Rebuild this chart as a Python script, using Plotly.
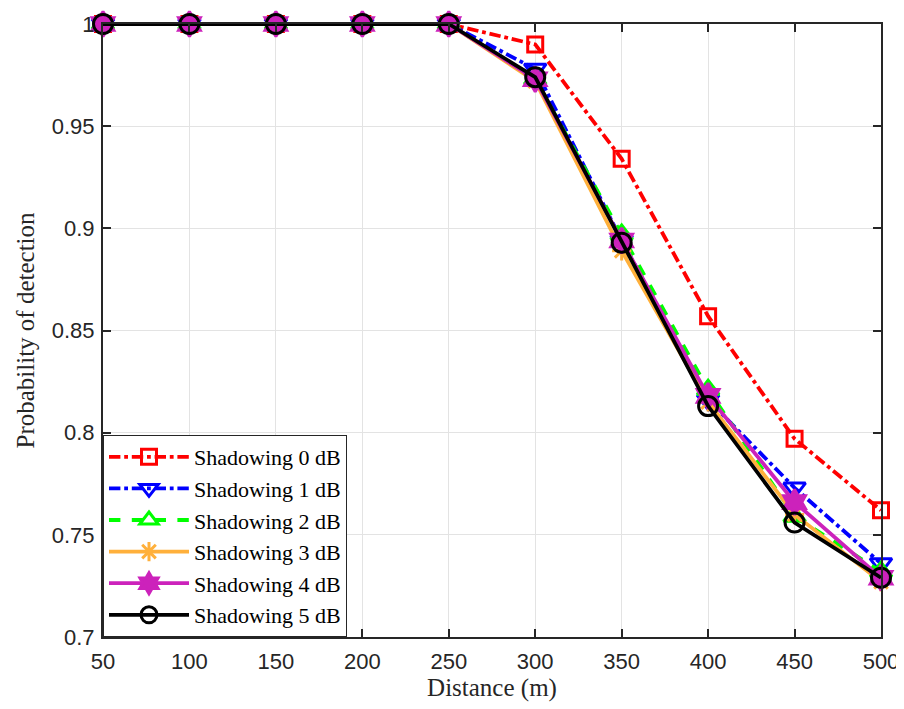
import plotly.graph_objects as go

distance = [50, 100, 150, 200, 250, 300, 350, 400, 450, 500]
pd_0dB = [1, 1, 1, 1, 1, 0.990, 0.934, 0.857, 0.797, 0.762]
pd_1dB = [1, 1, 1, 1, 1, 0.978, 0.894, 0.816, 0.773, 0.736]
pd_2dB = [1, 1, 1, 1, 1, 0.973, 0.897, 0.821, 0.759, 0.732]
pd_3dB = [1, 1, 1, 1, 1, 0.972, 0.889, 0.815, 0.760, 0.727]
pd_4dB = [1, 1, 1, 1, 1, 0.973, 0.894, 0.818, 0.766, 0.729]
pd_5dB = [1, 1, 1, 1, 1, 0.974, 0.893, 0.813, 0.756, 0.729]
series_names = ["Shadowing 0 dB", "Shadowing 1 dB", "Shadowing 2 dB",
                "Shadowing 3 dB", "Shadowing 4 dB", "Shadowing 5 dB"]
x_ticks = [50, 100, 150, 200, 250, 300, 350, 400, 450, 500]
y_ticks = [0.7, 0.75, 0.8, 0.85, 0.9, 0.95, 1]
y_tick_text = ["0.7", "0.75", "0.8", "0.85", "0.9", "0.95", "1"]

styles = [
    dict(color="#FF0000", dash="dashdot", symbol="square-open", size=15),
    dict(color="#0000FF", dash="dashdot", symbol="triangle-down-open", size=19),
    dict(color="#00FF00", dash="dash", symbol="triangle-up-open", size=19),
    dict(color="#FFB03B", dash="solid", symbol="asterisk-open", size=16),
    dict(color="#CC22BB", dash="solid", symbol="hexagram", size=19),
    dict(color="#000000", dash="solid", symbol="circle-open", size=19),
]
data = [pd_0dB, pd_1dB, pd_2dB, pd_3dB, pd_4dB, pd_5dB]

fig = go.Figure()
for name, ys, st in zip(series_names, data, styles):
    fig.add_trace(go.Scatter(
        x=distance, y=ys, name=name, mode="lines+markers",
        line=dict(color=st["color"], width=3.8, dash=st["dash"]),
        marker=dict(symbol=st["symbol"], size=st["size"], color=st["color"],
                    line=dict(color=st["color"], width=3)),
        cliponaxis=False,
    ))

axis_common = dict(
    showline=True, linecolor="#262626", linewidth=2, mirror="ticks",
    ticks="inside", ticklen=8, tickwidth=2, tickcolor="#262626",
    showgrid=True, gridcolor="#E3E3E3", gridwidth=1, zeroline=False,
    automargin=False,
    tickfont=dict(family="Liberation Sans, Arial", size=22, color="#262626"),
)

title_font = dict(family="Liberation Serif, Times New Roman", size=25, color="#262626")

fig.update_layout(
    width=904, height=709,
    margin=dict(l=95, r=31, t=16, b=80),
    paper_bgcolor="white", plot_bgcolor="white",
    xaxis=dict(range=[50, 500], tickvals=x_ticks,
               title=dict(text="Distance (m)", standoff=5, font=title_font),
               ticklabelstandoff=4,
               **axis_common),
    yaxis=dict(range=[0.7, 1], tickvals=y_ticks, ticktext=y_tick_text,
               title=dict(text="Probability of detection", standoff=10, font=title_font),
               ticklabelstandoff=2,
               **axis_common),
    legend=dict(x=0.0, y=0.0, xanchor="left", yanchor="bottom",
                bgcolor="white", bordercolor="#262626", borderwidth=1,
                font=dict(family="Liberation Serif, Times New Roman", size=22, color="#000000"),
                tracegroupgap=0, itemwidth=80),
    showlegend=True,
)

fig.write_html("out.html")
